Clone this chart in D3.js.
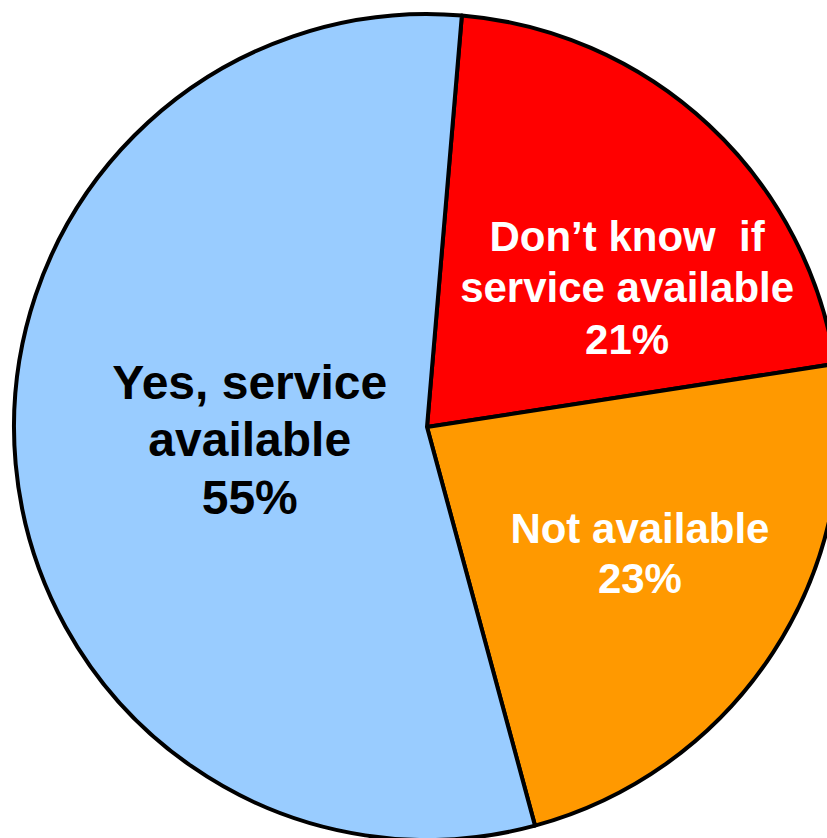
<!DOCTYPE html>
<html>
<head>
<meta charset="utf-8">
<script src="https://cdn.jsdelivr.net/npm/d3@7"></script>
<style>
  html, body { margin: 0; padding: 0; background: #fff; }
  svg { display: block; }
  text { font-family: "Liberation Sans", Arial, sans-serif; font-weight: bold; white-space: pre; }
</style>
</head>
<body>
<div id="chart"></div>
<script>
// data, in drawing order (clockwise from just right of 12 o'clock)
const categories = ["Don\u2019t know  if service available", "Not available", "Yes, service available"];
const values = [21, 23, 55];
const labelLines = [
  ["Don\u2019t know  if", "service available", "21%"],
  ["Not available", "23%"],
  ["Yes, service", "available", "55%"]
];
const colors = ["#ff0000", "#ff9900", "#99ccff"];

const width = 827;
const height = 838;
const cx = 427, cy = 427;
const radius = 413;

// label styling per slice (text colour, size, line spacing, radius & nudge)
const labelStyle = [
  { fill: "#fff", size: 42, lead: 51.5, r: 242, dx: 35, dy: 37 },
  { fill: "#fff", size: 42, lead: 50, r: 248, dx: 5, dy: -9 },
  { fill: "#000", size: 48, lead: 57.5, r: 177, dx: -1, dy: -4 }
];

const svg = d3.select("#chart").append("svg")
  .attr("width", width)
  .attr("height", height);

const g = svg.append("g")
  .attr("transform", `translate(${cx},${cy})`);

const start = 4.84 * Math.PI / 180;
const pie = d3.pie()
  .sort(null)
  .startAngle(start)
  .endAngle(start + 2 * Math.PI);

const arcs = pie(values);

const arc = d3.arc().innerRadius(0).outerRadius(radius);

g.selectAll(".slice")
  .data(arcs)
  .join("path")
  .attr("class", "slice")
  .attr("d", arc)
  .style("fill", (d, i) => colors[i])
  .style("stroke", "#000")
  .style("stroke-width", 4)
  .style("stroke-linejoin", "round");

// labels, centred on a centroid at their own radius
const labels = g.selectAll(".label")
  .data(arcs)
  .join("text")
  .attr("class", "label")
  .attr("text-anchor", "middle")
  .attr("xml:space", "preserve")
  .style("fill", (d, i) => labelStyle[i].fill)
  .style("font-size", (d, i) => labelStyle[i].size + "px")
  .each(function(d, i) {
    const s = labelStyle[i];
    const c = d3.arc().innerRadius(s.r).outerRadius(s.r).centroid(d);
    const x = c[0] + s.dx;
    const y = c[1] + s.dy;
    const lines = labelLines[i];
    const capHalf = s.size * 0.716 / 2;
    d3.select(this).selectAll("tspan")
      .data(lines)
      .join("tspan")
      .attr("x", x)
      .attr("y", (t, j) => y + (j - (lines.length - 1) / 2) * s.lead + capHalf)
      .text(t => t);
  });
</script>
</body>
</html>
